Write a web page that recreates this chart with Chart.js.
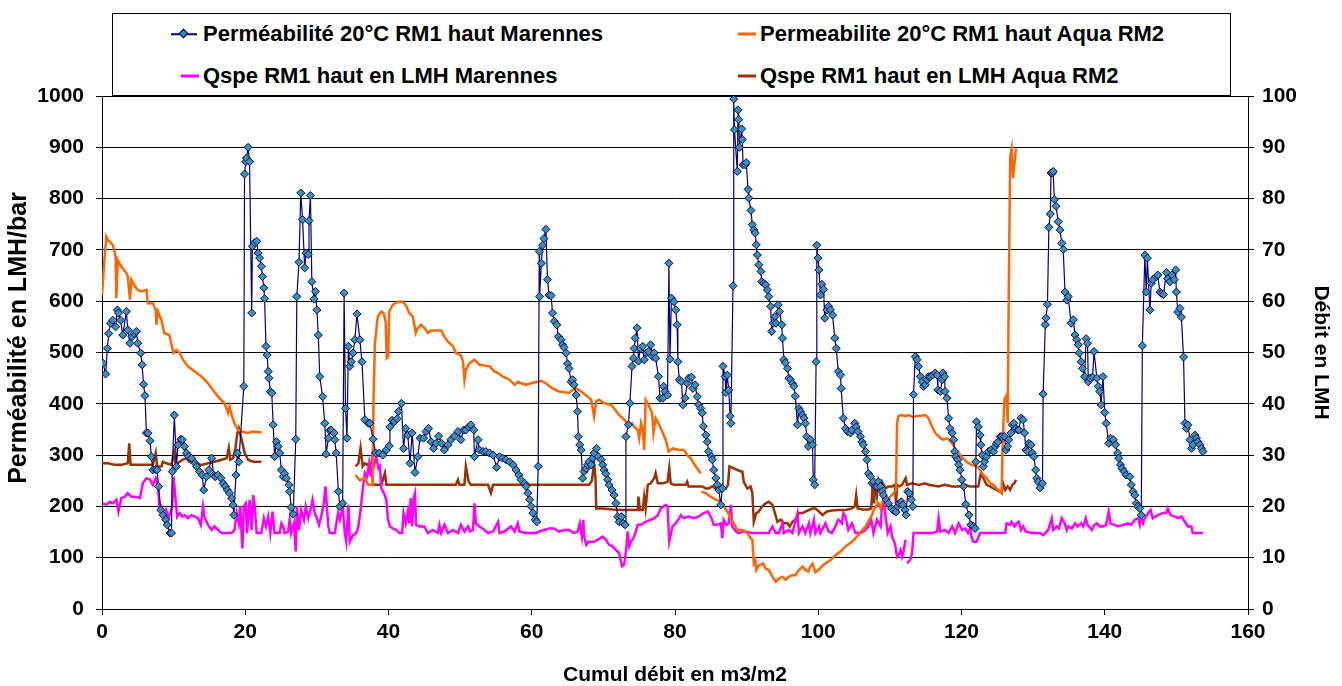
<!DOCTYPE html>
<html lang="fr">
<head>
<meta charset="utf-8">
<title>Perméabilité RM1 haut</title>
<script src="https://cdn.jsdelivr.net/npm/chart.js@4/dist/chart.umd.min.js"></script>
<style>
  html, body { margin: 0; padding: 0; background: #fff; }
  #wrap { position: relative; width: 1342px; height: 686px; overflow: hidden; font-family: "Liberation Sans", Arial, sans-serif; }
  #chart { position: absolute; left: 0; top: 0; }
  #legend { position: absolute; left: 112px; top: 13px; width: 1117px; height: 81px; border: 1px solid #000; background: #fff; }
  .item { position: absolute; font-weight: bold; font-size: 22px; line-height: 1; white-space: nowrap; transform: translateY(-50%); color: #000; }
  .mark { position: absolute; transform: translateY(-50%); }
  .diam { position: absolute; width: 5px; height: 5px; background: #2b8f99; border: 1px solid #000080; transform: rotate(45deg); }
</style>
</head>
<body>
<div id="wrap">
  <canvas id="chart" width="1342" height="686"></canvas>
  <div id="legend"></div>
</div>
<script>
// ==================== DONNÉES ====================
const xTicks = [0, 20, 40, 60, 80, 100, 120, 140, 160];
const leftTicks = [0, 100, 200, 300, 400, 500, 600, 700, 800, 900, 1000];
const rightTicks = [0, 10, 20, 30, 40, 50, 60, 70, 80, 90, 100];

const seriesNames = [
  'Perméabilité 20°C RM1 haut Marennes',
  'Permeabilite 20°C RM1 haut Aqua RM2',
  'Qspe RM1 haut en LMH Marennes',
  'Qspe RM1 haut en LMH Aqua RM2'
];

// perméabilité Marennes (LMH/bar) : [cumul m3/m2, valeur]
const permMarennes = [
  [0.15,479],[0.5,458],[0.75,508],[0.94,537],[1.2,557],[1.5,563],[1.9,550],[2.15,583],[2.3,577],[2.6,563],[2.9,534],[3.4,580],[3.6,544],[3.9,518],[4.2,531],[4.5,537],[4.8,541],[5.0,518],[5.4,499],[5.6,476],[5.8,438],[6.0,416],[6.2,343],[6.4,343],[6.7,328],[6.9,297],[7.1,271],[7.5,272],[7.7,271],[7.9,239],[8.2,193],[8.5,183],[8.9,174],[9.1,164],[9.5,148],[9.7,148],[9.8,268],[10.1,378],[10.4,278],[10.6,320],[11.0,331],[11.2,330],[11.5,317],[11.8,304],[12.1,297],[12.5,294],[13.0,284],[13.2,278],[13.6,268],[14.0,261],[14.2,232],[14.6,258],[14.9,271],[15.3,294],[15.6,261],[15.8,258],[16.2,261],[16.6,255],[16.9,245],[17.2,239],[17.5,232],[17.8,226],[18.1,216],[18.3,203],[18.4,183],[18.7,261],[18.9,304],[19.1,287],[19.8,434],[19.9,848],[20.07,872],[20.16,879],[20.4,900],[20.6,872],[20.9,577],[21.0,707],
  [21.3,714],[21.6,717],[21.8,694],[22.0,684],[22.25,668],[22.4,648],[22.6,626],[22.7,605],[22.9,512],[23.05,495],[23.2,463],[23.3,450],[23.5,424],[23.7,421],[23.9,359],[24.1,297],[24.35,326],[24.6,317],[24.8,304],[25.05,271],[25.3,258],[25.5,264],[25.75,255],[26.1,242],[26.2,229],[26.4,198],[26.7,185],[27.05,331],[27.2,609],[27.5,676],[27.75,811],[28.0,759],[28.3,665],[28.5,694],[28.8,691],[28.9,757],[29.1,806],[29.3,638],[29.6,604],[29.8,619],[30.0,583],[30.2,534],[30.4,453],[30.8,414],[31.1,362],[31.3,302],[31.6,333],[31.8,348],[32.0,349],[32.4,343],[32.5,330],[32.7,304],[33.0,229],[33.2,200],[33.6,206],[33.8,616],[34.0,391],[34.2,333],[34.4,512],[34.6,473],[34.8,482],[35.05,499],[35.3,525],[35.6,575],[36.0,525],[36.3,482],[36.7,369],[37.2,362],[37.4,362],[37.85,331],[38.2,304],[38.7,304],
  [39.2,300],[39.7,310],[40.1,318],[40.2,355],[40.5,368],[40.8,365],[41.2,371],[41.4,385],[41.8,401],[42.1,313],[42.4,352],[42.7,339],[43.0,284],[43.3,343],[43.7,266],[44.1,297],[44.4,333],[44.9,333],[45.25,346],[45.6,352],[45.95,326],[46.3,313],[46.65,323],[47.0,337],[47.4,323],[47.8,310],[48.3,320],[48.7,330],[49.2,337],[49.7,346],[50.1,330],[50.5,349],[50.8,349],[51.2,355],[51.5,359],[51.9,349],[52.0,297],[52.5,330],[52.7,310],[53.2,307],[53.6,307],[54.1,304],[54.6,300],[55.1,276],[55.5,297],[55.95,294],[56.4,291],[56.9,287],[57.4,281],[57.8,271],[58.2,261],[58.5,252],[59.0,245],[59.2,239],[59.45,226],[59.7,213],[59.9,200],[60.15,187],[60.5,174],[60.7,170],[60.9,278],[61.05,697],[61.1,609],[61.35,674],[61.5,709],[61.7,722],[61.97,740],[62.2,642],
  [62.4,612],[62.7,611],[62.9,577],[63.15,561],[63.5,554],[63.7,531],[64.1,525],[64.3,515],[64.5,510],[64.8,499],[65.0,478],[65.2,469],[65.5,443],[65.7,447],[65.9,437],[66.2,417],[66.4,385],[66.5,336],[66.7,320],[66.9,310],[67.1,255],[67.3,268],[67.6,274],[67.8,281],[68.0,287],[68.3,281],[68.5,294],[68.7,304],[69.05,313],[69.3,297],[69.7,291],[69.9,281],[70.1,271],[70.35,264],[70.6,252],[70.8,242],[71.2,232],[71.5,222],[71.75,206],[72.0,180],[72.2,170],[72.5,180],[72.8,167],[73.05,164],[73.15,336],[73.5,359],[73.7,401],[74.0,473],[74.2,489],[74.3,508],[74.45,528],[74.7,548],[74.9,483],[75.15,508],[75.5,512],[75.7,486],[76.0,499],[76.3,502],[76.6,515],[76.9,492],[77.1,499],[77.3,489],[77.7,453],[77.9,411],[78.3,411],[78.4,434],[78.6,424],[78.96,417],[79.15,674],[79.3,487],[79.5,606],[79.85,599],[80.1,583],[80.3,554],[80.4,482],[80.6,447],[80.9,443],[81.1,398],[81.4,411],[81.7,440],[81.9,450],[82.3,452],[82.5,430],[82.8,437],[83.1,414],[83.3,398],[83.6,391],[83.8,382],[83.95,356],[84.3,339],[84.5,326],[84.7,307],[85.1,297],[85.2,291],[85.4,271],[85.7,255],[85.9,242],[86.1,232],[86.4,203],[86.6,235],[86.7,473],[87.0,453],[87.1,422],[87.3,456],[87.5,427],[87.7,376],[87.8,362],
  [88.1,630],[88.2,994],[88.3,934],[88.7,853],[88.8,973],[88.9,954],[89.0,900],[89.3,936],[89.4,915],[89.5,866],[89.8,866],[89.95,870],[90.2,818],[90.3,801],[90.6,777],[90.8,749],[91.0,739],[91.2,733],[91.35,710],[91.5,690],[91.7,671],[92.0,658],[92.1,638],[92.4,635],[92.65,632],[92.9,622],[93.1,609],[93.35,590],[93.5,541],[93.7,557],[93.95,570],[94.1,557],[94.4,593],[94.6,580],[94.9,554],[95.0,528],[95.2,486],[95.4,480],[95.7,469],[95.9,450],[96.1,447],[96.4,440],[96.6,434],[96.8,415],[97.1,359],[97.3,391],[97.5,385],[97.8,378],[98.0,372],[98.2,362],[98.4,336],[98.6,317],[98.9,330],[99.2,320],[99.3,252],[99.5,242],[99.7,482],[99.8,709],[99.96,684],[100.1,661],[100.3,612],[100.5,633],[100.75,623],[100.9,567],[101.2,583],[101.45,590],[101.7,583],[102.0,573],[102.3,528],[102.5,508],[102.8,463],[103.1,456],[103.2,430],[103.5,372],[103.8,352],[104.1,346],[104.5,343],[104.7,349],[105.1,362],[105.3,355],[105.55,346],[105.9,336],[106.1,326],[106.3,320],[106.6,307],[106.8,291],[107.0,264],[107.3,258],[107.5,245],[107.7,248],[107.97,239],[108.2,239],[108.4,248],[108.7,239],[108.9,229],[109.1,222],[109.5,213],[109.8,206],[110.2,196],[110.5,192],[110.85,189],[111.1,200],[111.3,206],[111.6,209],[111.8,203],[112.1,193],[112.25,183],[112.5,229],[112.7,226],[113.0,213],[113.2,200],
  [113.3,418],[113.55,492],[113.8,486],[114.0,473],[114.25,453],[114.5,443],[114.7,434],[114.95,437],[115.2,447],[115.4,453],[115.65,453],[115.97,456],[116.35,460],[116.6,456],[116.7,427],[117.05,424],[117.3,447],[117.4,460],[117.65,453],[117.7,424],[117.97,411],[118.2,372],[118.4,352],[118.7,343],[118.9,330],[119.05,307],[119.2,297],[119.5,291],[119.6,281],[119.8,271],[120.05,252],[120.3,239],[120.6,204],[121.05,183],[121.3,164],[121.65,161],[121.9,157],[122.0,287],[122.1,365],[122.35,355],[122.6,339],[122.7,320],[122.9,300],[123.05,278],[123.2,287],[123.5,297],[123.75,307],[124.1,310],[124.5,307],[124.7,317],[124.9,323],[125.1,326],[125.4,336],[125.6,336],[126.0,336],[126.2,310],[126.45,317],[126.6,330],[126.9,343],[127.1,359],[127.3,362],[127.6,352],[127.85,349],[128.0,349],[128.3,372],[128.6,369],[128.8,343],[129.0,310],[129.2,307],[129.4,323],[129.7,320],[129.9,304],[130.1,297],[130.35,271],[130.5,255],[130.7,248],[130.96,236],[131.3,245],
  [131.4,419],[131.7,554],[131.8,567],[132.0,594],[132.2,744],[132.4,770],[132.5,850],[132.7,850],[132.8,853],[132.96,798],[133.2,785],[133.5,755],[133.75,739],[134.0,713],[134.2,701],[134.45,618],[134.7,602],[134.9,609],[135.3,557],[135.6,564],[135.85,534],[136.1,525],[136.3,515],[136.45,499],[136.7,482],[136.9,469],[137.2,453],[137.4,527],[137.6,518],[137.7,443],[137.95,450],[138.3,452],[138.5,502],[138.9,450],[139.1,434],[139.3,424],[139.5,398],[139.75,453],[140.0,383],[140.2,362],[140.55,323],[140.8,333],[141.2,330],[141.5,320],[141.8,304],[141.95,294],[142.2,281],[142.4,274],[142.7,268],[143.0,261],[143.5,258],[143.7,242],[143.95,229],[144.2,222],[144.4,206],[144.6,200],[144.9,196],[145.1,183],[145.25,513],[145.6,690],[145.8,618],[145.95,684],[146.3,583],[146.5,635],[146.7,642],[147.2,648],[147.4,651],[147.7,618],[147.9,615],[148.2,613],[148.6,656],[148.8,644],[149.1,638],[149.4,651],[149.7,642],[149.9,661],[150.0,618],[150.2,579],[150.5,586],[150.7,569],[151.0,491],[151.2,362],[151.4,352],[151.6,359],[151.9,330],[152.1,313],[152.3,320],[152.6,339],[152.8,333],[153.0,326],[153.3,320],[153.5,313],[153.7,307]
];

// perméabilité Aqua RM2 (LMH/bar), null = coupure
const permAqua = [
  [0.0,612],[0.3,674],[0.6,726],[0.85,719],[1.5,710],[1.9,687],[2.0,606],[2.2,680],[2.7,667],[3.4,655],[3.6,648],[3.9,603],[4.1,642],[4.6,629],[5.0,622],[5.5,619],[6.2,622],[6.4,596],[7.1,596],[7.5,583],[7.6,554],[7.8,580],[8.3,563],[8.7,538],[9.4,534],[9.98,499],[10.4,505],[10.85,499],[11.3,486],[12.0,473],[12.95,463],[13.9,453],[14.8,440],[15.5,427],[16.2,414],[17.1,401],[17.6,382],[17.8,395],[18.1,378],[18.5,362],[18.99,349],[19.5,346],[20.4,343],[21.0,346],[22.3,344],
  [29.0,null],
  [35.4,261],[36.0,251],[36.7,255],[37.15,242],[37.8,242],[37.9,400],[38.1,518],[38.5,570],[39.0,580],[39.35,576],[39.6,560],[39.75,489],[39.95,492],[40.1,580],[40.6,593],[41.3,599],[42.0,599],[42.5,590],[42.9,577],[43.4,570],[43.8,538],[44.1,548],[44.55,554],[45.0,548],[45.5,538],[45.95,543],[47.35,543],[47.8,531],[48.3,521],[49.0,512],[49.4,499],[50.1,495],[50.4,482],[50.6,447],[50.8,466],[51.3,479],[52.0,486],[52.7,476],[54.1,473],[54.8,463],[55.3,460],[55.95,453],[56.9,447],[57.6,437],[58.1,443],[58.5,440],[59.2,437],[59.9,440],[61.3,445],[61.97,440],[62.9,430],[63.8,424],[65.2,421],[65.7,427],[66.2,430],[66.9,424],[67.8,414],[68.3,408],[68.7,375],[69.0,405],[69.4,408],[70.1,401],[71.1,398],[71.5,391],[72.2,378],[72.7,372],[73.15,365],[73.5,355],[74.0,362],[74.3,355],[74.8,349],[75.0,333],[75.25,362],[75.5,349],[75.7,310],[75.9,408],[76.3,398],[76.8,382],[77.0,343],[77.3,372],[77.8,359],[78.3,343],[78.7,330],[79.1,307],[79.7,313],[80.6,310],[81.25,310],[81.7,300],[82.2,294],[82.6,284],[83.1,274],[83.6,264],
  [83.65,null],
  [83.7,229],[84.3,226],[84.95,219],[85.7,213],[86.4,209],[86.8,200],[87.3,190],[87.8,177],[88.2,167],[88.7,154],[89.4,154],[90.1,148],[90.55,138],[90.8,135],[91.0,89],[91.2,95],[91.35,76],[91.7,85],[92.3,89],[92.65,79],[93.1,76],[93.6,63],[94.05,53],[94.5,59],[95.0,63],[95.45,57],[95.9,63],[96.4,66],[96.8,66],[97.3,76],[97.8,83],[98.2,76],[98.6,73],[98.9,83],[99.2,88],[99.6,72],[100.05,76],[100.5,83],[101.0,89],[101.7,95],[102.4,105],[103.1,112],[103.8,122],[104.7,131],[105.6,144],[106.6,161],[107.5,183],[107.7,192],[108.2,203],[108.4,206],[108.7,196],[108.9,206],[109.4,216],[109.8,216],[110.3,222],[110.7,229],[110.85,232],[111.0,362],[111.2,376],[111.6,378],[112.2,376],[112.6,378],[113.1,375],[114.0,376],[114.95,378],[115.4,372],[115.9,355],[116.35,343],[117.05,333],[117.5,330],[117.97,333],[118.7,323],[119.1,313],[119.6,304],[120.0,297],[120.7,287],[121.4,281],[122.1,278],[122.6,271],[123.05,261],[123.5,255],[124.0,245],[124.45,242],[124.9,235],[125.4,229],[125.6,226],[125.75,323],[125.98,408],[126.3,417],[126.45,362],[126.6,622],[126.8,882],[127.0,898],[127.2,840],[127.6,898]
];

// Qspe Marennes (LMH, axe de droite)
const qspeMarennes = [
  [0.15,20.6],[0.6,20.3],[1.1,20.9],[1.5,20.6],[2.0,21.3],[2.3,19.0],[2.7,21.6],[3.2,21.9],[3.6,22.6],[4.1,21.9],[4.6,21.9],[5.3,21.6],[5.7,24.5],[6.2,25.5],[6.7,25.2],[7.1,24.2],[7.5,25.5],[7.8,23.9],[8.05,19.6],[8.3,20.0],[8.7,18.0],[8.96,19.3],[9.3,17.7],[9.6,19.0],[9.8,20.0],[10.0,25.8],[10.25,21.6],[10.5,18.0],[10.85,18.7],[11.2,18.0],[11.55,18.3],[12.0,17.7],[12.5,18.3],[12.95,18.0],[13.4,17.7],[13.8,16.4],[14.1,20.0],[14.3,18.0],[14.8,16.4],[15.3,15.4],[15.7,16.1],[16.2,15.4],[16.7,14.8],[17.4,14.8],[18.1,14.8],[18.5,15.4],[18.8,18.7],[19.1,16.7],[19.3,20.0],[19.6,11.8],[19.8,20.0],[20.07,20.6],[20.25,14.8],[20.6,21.3],[20.9,15.4],[21.1,22.2],[21.3,20.3],[21.6,14.8],[22.25,14.8],[22.6,17.7],[22.9,16.1],[23.2,18.0],[23.5,14.8],[23.8,19.0],[24.1,14.8],[24.8,14.8],[25.05,16.7],[25.3,16.1],[25.5,14.8],[25.98,15.1],[26.2,17.4],[26.4,14.8],[26.8,16.7],[27.05,11.2],[27.2,20.0],[27.5,15.4],[27.8,19.3],[28.2,17.4],[28.45,20.0],[28.8,17.7],[29.1,19.3],[29.4,21.3],[29.7,18.7],[30.0,17.7],[30.3,16.4],[30.6,18.0],[30.96,20.6],[31.2,23.9],[31.6,16.1],[31.8,14.8],[32.5,14.8],[32.96,18.7],[33.2,17.4],[33.6,20.0],[33.9,14.8],[34.1,13.1],[34.4,20.3],[34.6,13.1],[35.05,14.4],[35.5,14.8],[35.8,16.1],[36.1,19.3],[36.4,23.2],[36.7,26.5],[37.0,25.8],[37.3,28.4],[37.5,25.8],[37.75,29.7],[37.95,27.8],[38.3,29.7],[38.6,27.4],[38.8,27.8],[39.0,23.5],[39.4,22.5],[39.7,21.3],[39.9,17.7],[40.2,16.1],[40.6,15.7],
  [41.1,15.4],[41.5,14.8],[41.9,14.8],[42.1,18.7],[42.4,16.7],[42.7,19.0],[42.9,16.7],[43.1,21.6],[43.3,16.1],[43.5,21.6],[43.7,22.6],[43.85,16.4],[44.3,16.1],[45.0,16.1],[45.5,14.8],[46.2,15.4],[46.9,14.8],[47.1,16.4],[47.35,14.8],[47.8,16.4],[48.3,14.8],[49.0,15.4],[49.7,14.8],[50.1,16.4],[50.6,15.1],[51.1,16.1],[51.4,15.1],[51.8,15.4],[52.0,20.6],[52.2,16.7],[52.7,16.1],[53.4,15.4],[53.9,14.8],[54.6,15.1],[55.3,17.0],[55.5,14.8],[56.2,15.1],[57.1,16.1],[57.6,15.1],[58.05,16.7],[58.3,15.1],[59.2,14.8],[60.6,14.8],[61.05,15.1],[61.7,15.4],[62.4,15.7],[63.1,15.7],[63.8,15.1],[64.5,15.4],[65.2,15.4],[65.9,14.8],[66.4,15.1],[66.7,16.7],[67.0,14.1],[67.2,17.4],[67.3,14.4],[67.6,12.5],[68.0,13.1],[68.7,13.1],[69.2,13.5],[69.9,14.1],[70.35,13.5],[70.8,12.5],[71.3,12.2],[71.75,11.5],[72.2,10.9],[72.6,8.3],[72.9,8.6],[73.15,11.2],[73.4,15.1],[73.6,12.2],[73.85,13.1],[74.3,14.1],[74.8,16.4],[75.25,16.4],[75.9,17.0],[76.6,17.4],[77.1,17.7],[77.6,18.3],[78.0,19.6],[78.7,20.3],[78.96,20.0],[79.2,13.1],[79.65,16.1],[80.1,16.7],[80.6,17.7],[80.8,18.3],[81.25,17.7],[81.9,18.0],[82.6,17.7],[83.3,18.0],[84.0,18.7],[84.6,19.0],[85.1,17.7],[85.4,16.4],[85.9,16.4],[86.4,16.7],[86.6,13.8],[86.8,17.4],[87.2,16.4],[87.5,16.7],[87.8,20.3],[88.0,16.1],[88.5,15.1],[88.9,14.8],[89.6,15.1],[90.8,14.8],[93.1,14.8],[93.6,16.1],[94.05,14.8],[94.5,14.8],[95.0,16.7],[95.2,14.8],[95.9,15.4],[96.4,14.8],[97.1,18.7],[97.3,14.8],[97.8,16.1],[98.2,14.8],[98.7,16.7],[98.9,14.8],[99.4,17.4],[99.6,14.8],[100.1,16.1],[100.3,14.8],
  [101.0,16.7],[101.45,15.1],[101.9,14.8],[102.4,16.1],[102.8,17.4],[103.3,16.7],[103.5,18.7],[103.8,18.0],[104.2,15.4],[104.7,16.7],[105.2,14.8],[105.9,14.8],[106.6,15.4],[107.0,16.1],[107.4,17.4],[107.7,14.8],[108.2,17.4],[108.7,16.1],[108.9,20.0],[109.1,21.6],[109.4,18.0],[109.7,14.8],[110.1,16.1],[110.3,14.1],[110.7,12.8],[111.0,10.2],[111.2,10.5],[111.5,11.5],[111.7,10.2],[111.9,11.2],[112.2,13.5],[112.3,null],[112.4,8.9],[112.85,9.6],[113.1,10.9],[113.3,14.8],[114.0,14.8],[115.9,14.8],[116.6,15.1],[116.8,17.7],[117.05,15.1],[117.7,15.4],[118.2,14.8],[118.7,16.1],[119.1,14.8],[119.6,16.7],[120.1,15.4],[120.5,15.7],[120.9,14.8],[121.2,15.7],[121.4,14.1],[121.65,13.1],[122.1,13.1],[122.6,14.8],[123.75,14.8],[126.1,14.8],[126.3,16.7],[126.8,16.4],[127.0,17.0],[127.4,16.1],[127.7,16.7],[128.0,17.0],[128.3,15.4],[128.6,16.1],[128.96,15.1],[129.8,14.8],[130.96,14.8],[131.4,14.4],[132.1,15.4],[132.6,17.7],[132.8,15.4],[133.3,16.1],[133.6,15.7],[134.0,17.7],[134.4,16.7],[134.7,15.4],[134.9,16.1],[135.4,15.7],[135.85,16.7],[136.2,16.1],[136.7,16.7],[137.0,16.1],[137.35,17.7],[137.6,16.4],[138.2,15.4],[138.55,16.4],[138.9,16.7],[139.3,16.1],[139.75,16.1],[140.2,16.4],[140.55,19.0],[140.8,16.7],[141.3,16.4],[141.85,16.1],[142.55,16.4],[143.25,16.7],[143.7,16.4],[144.2,17.4],[144.65,17.7],[144.9,16.4],[145.1,18.0],[145.35,16.7],[145.6,17.7],[146.05,18.7],[146.4,19.3],[146.7,17.7],[147.4,18.3],[148.1,18.7],[148.6,18.7],[148.8,19.6],[149.2,18.3],[149.8,18.0],[150.2,17.7],[150.7,18.0],[151.2,17.0],[151.6,16.1],[152.1,16.1],[152.3,14.8],[153.7,14.8]
];

// Qspe Aqua RM2 (LMH, axe de droite), null = coupure
const qspeAqua = [
  [0.0,28.4],[0.85,28.4],[1.8,28.1],[2.7,28.1],[3.6,28.4],[3.8,32.3],[4.0,28.1],[4.6,28.1],[5.5,28.1],[6.4,28.1],[7.1,28.1],[7.5,30.4],[7.7,27.8],[8.3,27.8],[8.5,28.7],[9.0,28.4],[9.7,28.1],[10.05,30.7],[10.3,28.1],[10.85,28.7],[11.3,29.1],[11.8,29.4],[12.2,28.7],[12.95,28.4],[13.9,28.1],[14.8,28.4],[15.7,28.7],[16.7,29.1],[17.4,29.4],[17.7,31.4],[17.9,29.1],[18.3,29.4],[18.6,31.0],[18.9,34.3],[19.1,35.2],[19.5,33.0],[19.9,30.5],[20.4,29.1],[21.1,28.7],[22.25,28.7],
  [29.0,null],
  [35.4,27.8],[35.8,28.4],[36.1,31.4],[36.4,27.8],[36.7,28.4],[37.0,28.1],[37.4,28.4],[37.6,27.8],[37.85,24.2],[38.2,24.2],[39.0,24.2],[39.5,26.5],[39.7,24.2],[40.2,24.2],[41.1,24.2],[42.9,24.2],[44.8,24.2],[46.65,24.2],[48.5,24.2],[49.4,24.2],[49.7,25.2],[49.9,24.2],[50.6,24.2],[50.8,27.8],[51.2,24.8],[51.5,24.2],[53.9,24.2],[54.3,22.6],[54.6,24.2],[56.9,24.2],[59.2,24.2],[62.0,24.2],[66.0,24.2],[68.0,24.2],[68.4,25.0],[68.7,28.4],[68.9,25.5],[69.0,19.6],[69.9,19.6],[71.3,19.4],[72.7,19.3],[74.1,19.3],[74.8,19.3],[74.9,21.9],[75.1,19.3],[75.5,19.3],[75.7,21.9],[75.9,19.6],[76.2,24.2],[76.6,24.5],[77.1,25.5],[77.3,26.5],[77.6,24.5],[78.3,24.5],[78.96,24.8],[79.2,27.5],[79.4,24.5],[79.85,24.2],[80.55,24.2],[81.5,24.2],[81.7,24.8],[81.9,23.9],[82.9,23.9],[83.8,23.9],[84.3,23.5],[84.7,23.5],[85.2,23.9],[85.7,23.5],[86.1,23.9],[86.6,23.9],[87.1,23.5],[87.4,24.2],[87.6,27.8],[88.2,27.4],[89.2,26.8],[89.4,26.8],[89.6,24.8],[90.1,23.5],[90.55,23.9],[90.8,22.6],[91.0,17.0],[91.35,18.7],[91.7,19.0],[92.2,20.0],[92.65,20.6],[93.1,20.9],[93.6,20.3],[93.95,18.7],[94.3,17.0],[94.75,17.4],[95.2,16.7],[95.7,16.7],[96.0,16.1],[96.4,17.0],[96.8,17.4],[97.3,18.7],[97.8,18.7],[98.2,19.0],[98.7,19.3],[99.2,19.6],[99.6,19.6],[100.1,19.0],[100.6,18.3],[101.2,19.0],[101.9,19.2],[102.85,19.3],[103.8,19.3],[104.7,19.6],[105.1,20.0],[105.3,22.2],[105.5,19.6],[106.1,19.4],[107.0,19.4],[107.4,19.6],[107.6,24.5],[107.8,20.6],[107.97,24.8],[108.2,22.2],[108.4,24.8],[108.7,23.2],[108.9,24.8],[109.4,23.5],[109.8,23.9],[110.3,23.9],[110.7,24.2],[110.85,20.6],[111.0,24.2],[111.3,23.9],[111.7,24.2],[112.2,25.5],[112.4,24.2],[113.1,24.5],[114.0,24.2],[114.95,24.5],[115.4,24.2],[116.8,23.9],[117.7,24.2],[118.7,23.9],[119.6,23.9],[120.5,24.2],[121.2,23.9],[122.35,23.9],[122.7,26.5],[123.05,25.5],[123.5,24.2],[124.0,23.9],[124.45,23.5],[124.9,23.2],[125.4,22.8],[125.6,22.6],[125.8,24.5],[126.1,23.2],[126.45,23.9],[126.8,23.2],[127.1,24.2],[127.4,24.5],[127.6,25.2]
];

// ==================== FONCTIONS AUXILIAIRES ====================
const toPoints = arr => arr.map(p => ({ x: p[0], y: p[1] }));
const FONT = '"Liberation Sans", Arial, sans-serif';
const tickFont = { family: FONT, size: 21, weight: 'bold' };
const plainLabel = v => String(v);

// cadre de la zone de tracé + titre de l'axe de gauche
const plotBorder = {
  id: 'plotBorder',
  beforeDatasetsDraw(chart) {
    const a = chart.chartArea, ctx = chart.ctx;
    ctx.save();
    ctx.strokeStyle = '#000';
    ctx.lineWidth = 1;
    ctx.strokeRect(Math.round(a.left) + 0.5, Math.round(a.top) + 0.5, Math.round(a.right - a.left), Math.round(a.bottom - a.top));
    ctx.restore();
  },
  afterDraw(chart) {
    const ctx = chart.ctx;
    ctx.save();
    ctx.translate(19, 338);
    ctx.rotate(-Math.PI / 2);
    ctx.font = 'bold 25px ' + FONT;
    ctx.fillStyle = '#000';
    ctx.textAlign = 'center';
    ctx.textBaseline = 'middle';
    ctx.fillText('Perméabilité en LMH/bar', 0, 0);
    ctx.restore();
  }
};

// ==================== GRAPHIQUE ====================
const chart = new Chart(document.getElementById('chart').getContext('2d'), {
  type: 'line',
  data: {
    datasets: [
      {
        label: seriesNames[0], data: toPoints(permMarennes), yAxisID: 'y',
        borderColor: '#000080', borderWidth: 1.2,
        pointStyle: 'rectRot', pointRadius: 4, pointBackgroundColor: '#3a93a6',
        pointBorderColor: '#000080', pointBorderWidth: 1
      },
      {
        label: seriesNames[1], data: toPoints(permAqua), yAxisID: 'y',
        borderColor: '#ff6600', borderWidth: 2.5, pointRadius: 0
      },
      {
        label: seriesNames[2], data: toPoints(qspeMarennes), yAxisID: 'y2',
        borderColor: '#ff00ff', borderWidth: 2.5, pointRadius: 0
      },
      {
        label: seriesNames[3], data: toPoints(qspeAqua), yAxisID: 'y2',
        borderColor: '#993300', borderWidth: 2.5, pointRadius: 0
      }
    ]
  },
  options: {
    responsive: false,
    animation: false,
    devicePixelRatio: 1,
    spanGaps: false,
    layout: { padding: { top: 96, left: 0, right: 0, bottom: 0 } },
    plugins: { legend: { display: false }, tooltip: { enabled: false } },
    elements: { line: { tension: 0 } },
    scales: {
      x: {
        type: 'linear', min: 0, max: 160,
        afterBuildTicks: s => { s.ticks = xTicks.map(v => ({ value: v })); },
        afterFit: s => { s.height = 77; },
        ticks: { font: tickFont, color: '#000', padding: 5, maxRotation: 0, callback: plainLabel },
        grid: { drawOnChartArea: false, drawTicks: true, tickLength: 6, color: '#000' },
        border: { color: '#000', width: 1 },
        title: { display: true, text: 'Cumul débit en m3/m2', color: '#000',
                 font: { family: FONT, size: 21, weight: 'bold', lineHeight: 1 }, padding: { top: 0, bottom: 0 } }
      },
      y: {
        position: 'left', min: 0, max: 1000,
        afterBuildTicks: s => { s.ticks = leftTicks.map(v => ({ value: v })); },
        afterFit: s => { s.width = 102; },
        ticks: { font: tickFont, color: '#000', padding: 12, callback: plainLabel },
        grid: { color: '#000', lineWidth: 1, drawTicks: true, tickLength: 6 },
        border: { color: '#000', width: 1 }
      },
      y2: {
        position: 'right', min: 0, max: 100,
        afterBuildTicks: s => { s.ticks = rightTicks.map(v => ({ value: v })); },
        afterFit: s => { s.width = 94; },
        ticks: { font: tickFont, color: '#000', padding: 8, callback: plainLabel },
        grid: { drawOnChartArea: false, drawTicks: true, tickLength: 6, color: '#000' },
        border: { color: '#000', width: 1 },
        title: { display: true, text: 'Débit en LMH', color: '#000',
                 font: { family: FONT, size: 21, weight: 'bold', lineHeight: 1 }, padding: { top: 11, bottom: 0 } }
      }
    }
  },
  plugins: [plotBorder]
});

// ==================== LÉGENDE ====================
const legendDiv = document.getElementById('legend');
const legendItems = [
  { name: seriesNames[0], color: '#000080', x: 90, y: 20, lineW: 1.5, diamond: true },
  { name: seriesNames[1], color: '#ff6600', x: 647, y: 20, lineW: 3 },
  { name: seriesNames[2], color: '#ff00ff', x: 90, y: 62, lineW: 3 },
  { name: seriesNames[3], color: '#993300', x: 647, y: 62, lineW: 3 }
];
legendItems.forEach(it => {
  const mk = document.createElement('div');
  mk.className = 'mark';
  mk.style.top = it.y + 'px';
  mk.style.width = (it.diamond ? 26 : 18) + 'px';
  mk.style.left = (it.x - (it.diamond ? 32 : 22)) + 'px';
  mk.style.height = it.lineW + 'px';
  mk.style.background = it.color;
  legendDiv.appendChild(mk);
  if (it.diamond) {
    const d = document.createElement('div');
    d.className = 'diam';
    d.style.left = (it.x - 23) + 'px';
    d.style.top = (it.y - 4) + 'px';
    legendDiv.appendChild(d);
  }
  const t = document.createElement('div');
  t.className = 'item';
  t.style.left = it.x + 'px';
  t.style.top = it.y + 'px';
  t.textContent = it.name;
  legendDiv.appendChild(t);
});
</script>
</body>
</html>
